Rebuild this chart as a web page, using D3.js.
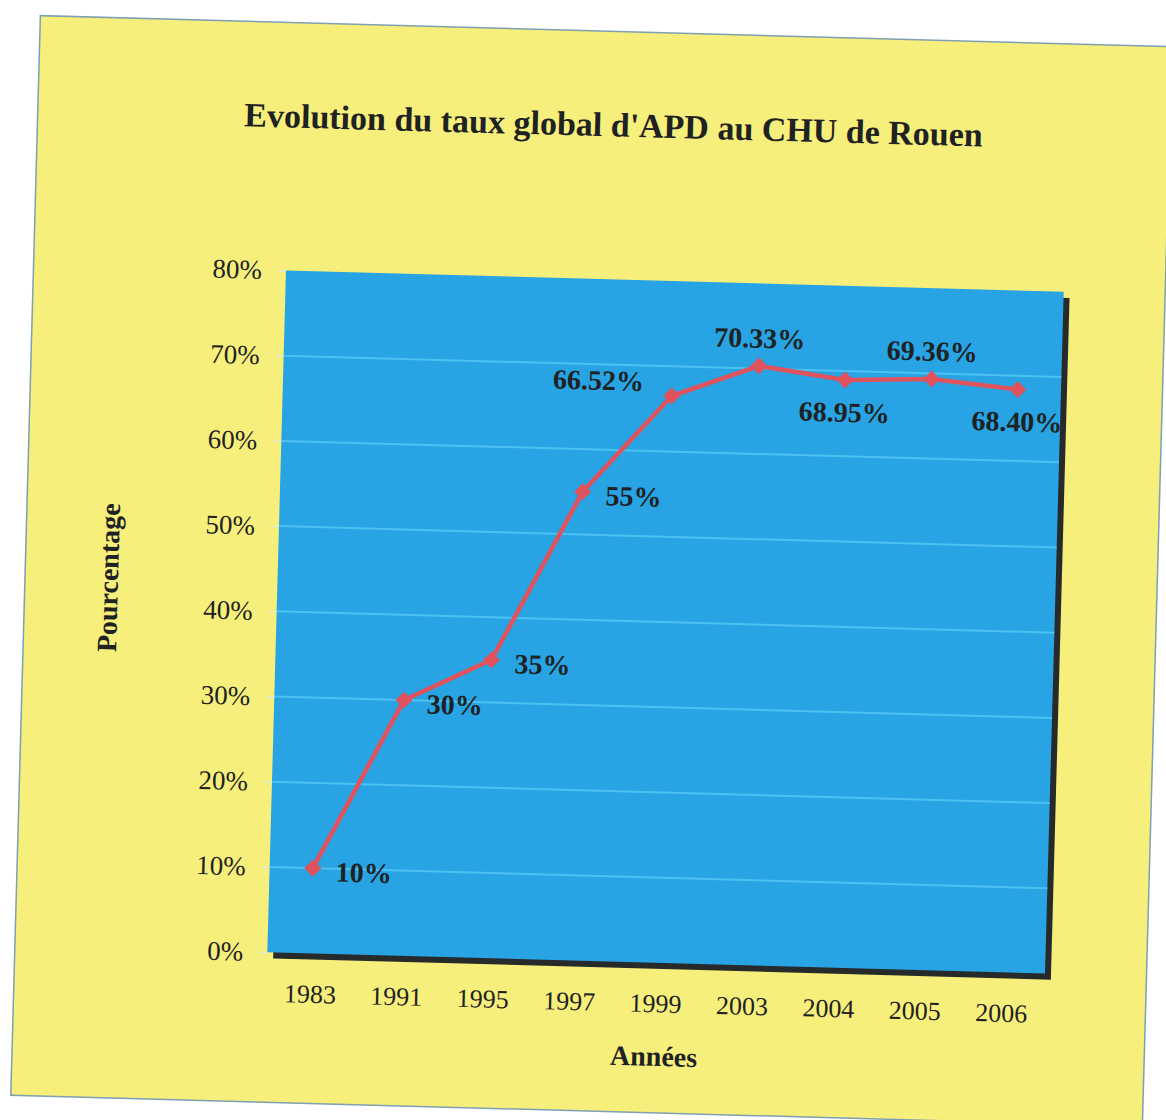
<!DOCTYPE html>
<html>
<head>
<meta charset="utf-8">
<script src="https://cdn.jsdelivr.net/npm/d3@7"></script>
<style>
  body { margin: 0; background: #ffffff; }
  svg text { font-family: "Liberation Serif", "Times New Roman", serif; fill: #1e2222; }
</style>
</head>
<body>
<div id="chart"></div>
<script>
// chart values
var years = ["1983", "1991", "1995", "1997", "1999", "2003", "2004", "2005", "2006"];
var rates = [10, 30, 35, 55, 66.52, 70.33, 68.95, 69.36, 68.40];
var labelPlacement = ["right", "right", "right", "right", "left", "above", "below", "above", "below"];
var yTicks = [0, 10, 20, 30, 40, 50, 60, 70, 80];

var width = 1166, height = 1120;

var svg = d3.select("#chart")
	.append("svg")
	.attr("width", width)
	.attr("height", height);

// the scanned page is a little tilted
var page = svg.append("g")
	.attr("transform", "rotate(1.57, 665.5, 622)");

// yellow chart area
page.append("rect")
	.attr("x", 24).attr("y", 33)
	.attr("width", 1132).attr("height", 1080)
	.attr("fill", "#f6ef7c")
	.attr("stroke", "#7f9fb2")
	.attr("stroke-width", 1.5);

var plot = { left: 276.5, right: 1054.5, top: 281, bottom: 963 };

var x = d3.scalePoint()
	.domain(years)
	.range([plot.left, plot.right])
	.padding(0.5);

var y = d3.scaleLinear()
	.domain([0, 80])
	.range([plot.bottom, plot.top]);

// shadow + plot background
page.append("rect")
	.attr("x", plot.left + 6).attr("y", plot.top + 6)
	.attr("width", plot.right - plot.left).attr("height", plot.bottom - plot.top)
	.attr("fill", "#262a2a");

page.append("rect")
	.attr("x", plot.left).attr("y", plot.top)
	.attr("width", plot.right - plot.left).attr("height", plot.bottom - plot.top)
	.attr("fill", "#28a3e3");

// gridlines
page.append("g")
	.selectAll("line")
	.data(yTicks.filter(function(d){ return d > 0 && d < 80; }))
	.enter().append("line")
	.attr("x1", plot.left).attr("x2", plot.right)
	.attr("y1", function(d){ return y(d); })
	.attr("y2", function(d){ return y(d); })
	.attr("stroke", "#4cc2f2")
	.attr("stroke-width", 2);

// y axis
var yAxis = page.append("g")
	.attr("transform", "translate(" + plot.left + ",0)")
	.call(d3.axisLeft(y)
		.tickValues(yTicks)
		.tickFormat(function(d){ return d + "%"; })
		.tickSize(8)
		.tickPadding(16));
yAxis.select(".domain").remove();
yAxis.selectAll(".tick line").attr("stroke", "#e4ecd0").attr("stroke-width", 1.5);
yAxis.selectAll(".tick text")
	.attr("font-size", 27)
	.attr("font-family", null);

// x axis
var xAxis = page.append("g")
	.attr("transform", "translate(0," + plot.bottom + ")")
	.call(d3.axisBottom(x).tickSize(0).tickPadding(31));
xAxis.select(".domain").remove();
xAxis.selectAll(".tick text")
	.attr("font-size", 26)
	.attr("font-family", null);

// line
var points = years.map(function(yr, i){ return { year: yr, value: rates[i], pos: labelPlacement[i] }; });

var line = d3.line()
	.x(function(d){ return x(d.year); })
	.y(function(d){ return y(d.value); });

page.append("path")
	.datum(points)
	.attr("d", line)
	.attr("fill", "none")
	.attr("stroke", "#e0525c")
	.attr("stroke-width", 4.5);

// diamond markers
page.append("g")
	.selectAll("path")
	.data(points)
	.enter().append("path")
	.attr("d", d3.symbol(d3.symbolSquare, 144))
	.attr("transform", function(d){ return "translate(" + x(d.year) + "," + y(d.value) + ") rotate(45)"; })
	.attr("fill", "#e0525c");

// value labels
function fmt(v){ return Number.isInteger(v) ? v + "%" : v.toFixed(2) + "%"; }

page.append("g")
	.selectAll("text")
	.data(points)
	.enter().append("text")
	.attr("font-size", 28)
	.attr("font-weight", "bold")
	.attr("x", function(d){
		var px = x(d.year);
		if (d.pos == "right") return px + 23;
		if (d.pos == "left") return px - 28;
		return px;
	})
	.attr("y", function(d){
		var py = y(d.value);
		if (d.pos == "above") return py - 28;
		if (d.pos == "below") return py + 32;
		if (d.pos == "left") return py - 14;
		return py + 3;
	})
	.attr("dy", "0.35em")
	.attr("text-anchor", function(d){
		if (d.pos == "right") return "start";
		if (d.pos == "left") return "end";
		return "middle";
	})
	.text(function(d){ return fmt(d.value); });

// titles
page.append("text")
	.attr("x", 600).attr("y", 138)
	.attr("text-anchor", "middle")
	.attr("font-size", 34)
	.attr("font-weight", "bold")
	.text("Evolution du taux global d'APD au CHU de Rouen");

page.append("text")
	.attr("x", 665.5).attr("y", 1066)
	.attr("text-anchor", "middle")
	.attr("font-size", 28)
	.attr("font-weight", "bold")
	.text("Années");

page.append("text")
	.attr("transform", "translate(117,593) rotate(-90)")
	.attr("text-anchor", "middle")
	.attr("font-size", 28)
	.attr("font-weight", "bold")
	.text("Pourcentage");
</script>
</body>
</html>
